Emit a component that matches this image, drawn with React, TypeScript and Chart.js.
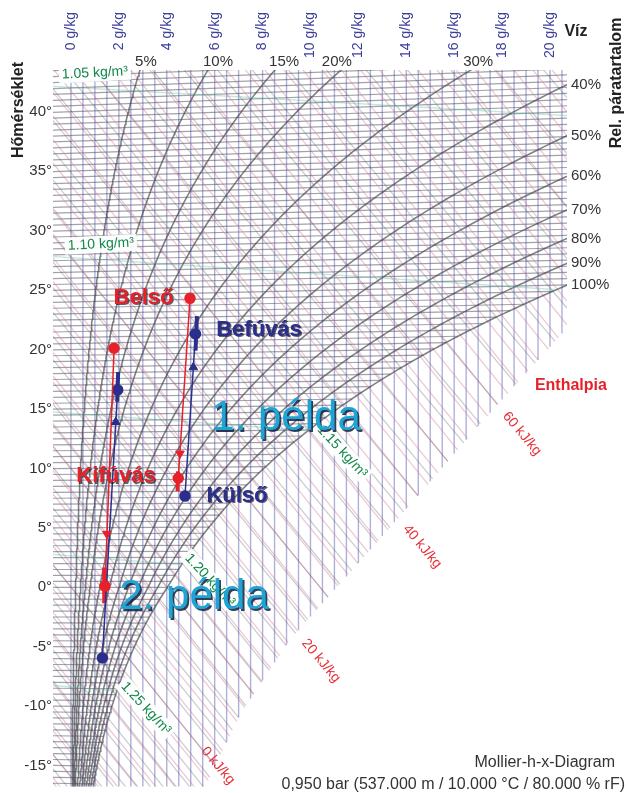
import React, { useEffect, useRef } from "react";
import { Chart, registerables } from "chart.js";

Chart.register(...registerables);

// ---------- diagram constants ----------
const PRESSURE_HPA = 950;
const X_MIN = -0.75;
const X_MAX = 20.71;
const Y_MIN = -16.75;
const Y_MAX = 43.5;

// ---------- axis / label values ----------
const humidityTicks = [0, 2, 4, 6, 8, 10, 12, 14, 16, 18, 20];
const temperatureTicks = [-15, -10, -5, 0, 5, 10, 15, 20, 25, 30, 35, 40];
const rhCurves = [5, 10, 15, 20, 30, 40, 50, 60, 70, 80, 90, 100];
const rhTopLabels = [5, 10, 15, 20, 30];
const rhTopLabelAt = [3.13, 6.14, 8.9, 11.1, 17.0];
const rhRightLabels = [40, 50, 60, 70, 80, 90, 100];
const densityValues = [1.05, 1.1, 1.15, 1.2, 1.25];
const enthalpyLabels = [0, 20, 40, 60];
const fogEdgeX = [5.6, 7.06, 9.14, 11.65, 14.57, 17.08, 20.71];
const fogEdgeY = [-16.75, -10.67, -4.4, 1.25, 7.9, 13.75, 21.8];

// grid spacing
const GRID_X_STEP = 0.5;
const GRID_T_STEP = 0.5;
const ENTHALPY_STEP = 2;
const WETBULB_STEP = 1;

// ---------- example processes ----------
const example1Red = [{ x: 4.97, y: 24.3 }, { x: 4.48, y: 9.17 }];
const example1Blue = [{ x: 4.76, y: 7.67 }, { x: 5.2, y: 21.3 }];
const example2Red = [{ x: 1.8, y: 20.1 }, { x: 1.42, y: 0.1 }];
const example2Blue = [{ x: 1.31, y: -5.94 }, { x: 1.95, y: 16.6 }];
const example1RedBar = [{ x: 4.47, y: 9.75 }, { x: 4.45, y: 8.08 }];
const example1BlueBar = [{ x: 5.26, y: 22.8 }, { x: 5.2, y: 19.9 }];
const example2RedBar = [{ x: 1.41, y: 1.67 }, { x: 1.39, y: -1.33 }];
const example2BlueBar = [{ x: 1.97, y: 18.1 }, { x: 1.93, y: 15.6 }];
const arrowsDown = [{ x: 4.55, y: 11.25 }, { x: 1.5, y: 4.5 }];
const arrowsUp = [{ x: 5.11, y: 18.5 }, { x: 1.87, y: 13.9 }];

// ---------- label layout (data coordinates) ----------
const densityLabelLayout = [
  { x: -0.38, y: 43.1, rot: -3, align: "left" },
  { x: -0.13, y: 28.7, rot: -3, align: "left" },
  { x: 11.32, y: 11.42, rot: 47, align: "center" },
  { x: 5.8, y: 0.6, rot: 47, align: "center" },
  { x: 3.13, y: -10.17, rot: 47, align: "center" },
];
const enthalpyLabelLayout = [
  { x: 6.14, y: -15.0 },
  { x: 10.44, y: -6.17 },
  { x: 14.66, y: 3.42 },
  { x: 18.83, y: 12.92 },
];
const annotations = [
  { text: "Belső", x: 3.03, y: 24.33, color: "#e8202a", size: 22 },
  { text: "Befúvás", x: 7.85, y: 21.67, color: "#2b2e8c", size: 22 },
  { text: "Kifúvás", x: 1.88, y: 9.33, color: "#e8202a", size: 22 },
  { text: "Külső", x: 6.93, y: 7.67, color: "#2b2e8c", size: 22 },
];
const exampleTitles = [
  { text: "1. példa", x: 8.98, y: 14.17 },
  { text: "2. példa", x: 5.14, y: -0.83 },
];

const FONT = '"Liberation Sans", Arial, sans-serif';

// ---------- psychrometrics ----------
function psat(t: number) {
  return t >= 0
    ? 6.112 * Math.exp((17.62 * t) / (243.12 + t))
    : 6.112 * Math.exp((22.46 * t) / (272.62 + t));
}
function xOfPv(pv: number) {
  return (622 * pv) / (PRESSURE_HPA - pv);
}
function yOf(t: number, x: number) {
  return t * (1 + 0.001849 * x);
}
function xSat(t: number) {
  return xOfPv(psat(t));
}
function fogEdge(x: number) {
  if (x < fogEdgeX[0]) return -100;
  for (let i = 1; i < fogEdgeX.length; i++) {
    if (x <= fogEdgeX[i]) {
      const f = (x - fogEdgeX[i - 1]) / (fogEdgeX[i] - fogEdgeX[i - 1]);
      return fogEdgeY[i - 1] + f * (fogEdgeY[i] - fogEdgeY[i - 1]);
    }
  }
  return fogEdgeY[fogEdgeY.length - 1];
}
function clippedLine(f: (x: number) => number) {
  const pts: { x: number; y: number }[] = [{ x: X_MIN, y: f(X_MIN) }];
  let end = X_MAX;
  for (let x = X_MIN; x <= X_MAX; x += 0.01) {
    if (f(x) < fogEdge(x)) {
      end = x;
      break;
    }
  }
  pts.push({ x: end, y: f(end) });
  return pts;
}
function rhRightExitY(phi: number) {
  const pv = (X_MAX * PRESSURE_HPA) / (622 + X_MAX);
  const ps = pv / (phi / 100);
  const l = Math.log(ps / 6.112);
  const t = (243.12 * l) / (17.62 - l);
  return yOf(t, X_MAX);
}

function lineDs(data: any[], color: string, width: number, order: number) {
  return {
    data,
    showLine: true,
    borderColor: color,
    backgroundColor: color,
    borderWidth: width,
    pointRadius: 0,
    tension: 0,
    order,
  };
}

function buildDatasets() {
  const ds: any[] = [];
  // vertical humidity lines
  for (let x = 0; x <= 20.5 + 1e-9; x += GRID_X_STEP) {
    ds.push(
      lineDs(
        [{ x, y: Y_MAX }, { x, y: Math.max(fogEdge(x), Y_MIN - 1) }],
        "rgba(145,145,200,0.72)",
        1.4,
        50
      )
    );
  }
  // isotherms
  for (let t = -17; t <= 43.5; t += GRID_T_STEP) {
    const xe = Math.min(xSat(t), X_MAX);
    ds.push(
      lineDs(
        [{ x: X_MIN, y: yOf(t, X_MIN) }, { x: xe, y: yOf(t, xe) }],
        "rgba(70,70,85,0.5)",
        1.2,
        45
      )
    );
  }
  // enthalpy lines
  for (let h = -20; h <= 100; h += ENTHALPY_STEP) {
    ds.push(lineDs(clippedLine((x) => (h - 2.501 * x) / 1.006), "rgba(205,120,150,0.42)", 1.2, 40));
  }
  // wet bulb / fog isotherms
  for (let tw = -24; tw <= 28; tw += WETBULB_STEP) {
    const xs = xSat(tw);
    const ys = yOf(tw, xs);
    const hs = 1.006 * ys + 2.501 * xs;
    const cw = tw >= 0 ? 0.00419 : 0.00205;
    ds.push(
      lineDs(
        clippedLine((x) => (hs + cw * tw * (x - xs) - 2.501 * x) / 1.006),
        "rgba(90,90,105,0.32)",
        1.2,
        35
      )
    );
  }
  // relative humidity curves
  for (const phi of rhCurves) {
    const pts: { x: number; y: number }[] = [];
    for (let t = -25; t <= 60; t += 0.25) {
      const pv = (phi / 100) * psat(t);
      const x = xOfPv(pv);
      const y = yOf(t, x);
      pts.push({ x, y });
      if (x > X_MAX + 2 || y > Y_MAX + 2) break;
    }
    ds.push(lineDs(pts, "rgba(70,70,80,0.68)", 1.6, 30));
  }
  // density lines
  for (const rho of densityValues) {
    const pts: { x: number; y: number }[] = [];
    for (let x = X_MIN; x <= X_MAX + 0.5; x += 0.05) {
      const xk = x / 1000;
      const t = (PRESSURE_HPA * 100 * (1 + xk)) / (287.05 * rho * (1 + 1.608 * xk)) - 273.15;
      pts.push({ x, y: yOf(t, x) });
      if (x >= xSat(t)) break;
    }
    ds.push(lineDs(pts, "rgba(80,185,160,0.35)", 1.4, 25));
  }
  // example bars
  ds.push(lineDs(example1RedBar, "#e8202a", 4, 6));
  ds.push(lineDs(example2RedBar, "#e8202a", 4, 6));
  ds.push(lineDs(example1BlueBar, "#2b2e8c", 4, 6));
  ds.push(lineDs(example2BlueBar, "#2b2e8c", 4, 6));
  // example lines with end dots
  for (const [pts, col] of [
    [example1Red, "#e8202a"],
    [example2Red, "#e8202a"],
    [example1Blue, "#2b2e8c"],
    [example2Blue, "#2b2e8c"],
  ] as any[]) {
    const d = lineDs(pts, col, 1.5, 3);
    d.pointRadius = 5;
    ds.push(d);
  }
  // arrow heads
  ds.push({
    data: arrowsDown,
    showLine: false,
    pointStyle: "triangle",
    rotation: 180,
    pointRadius: 5,
    backgroundColor: "#e8202a",
    borderColor: "#e8202a",
    borderWidth: 1,
    order: 1,
  });
  ds.push({
    data: arrowsUp,
    showLine: false,
    pointStyle: "triangle",
    rotation: 0,
    pointRadius: 5,
    backgroundColor: "#2b2e8c",
    borderColor: "#2b2e8c",
    borderWidth: 1,
    order: 1,
  });
  return ds;
}

function drawText(ctx: CanvasRenderingContext2D, text: string, px: number, py: number, o: any) {
  ctx.save();
  ctx.translate(px, py);
  if (o.rot) ctx.rotate((o.rot * Math.PI) / 180);
  ctx.font = o.font;
  ctx.textAlign = o.align || "center";
  ctx.textBaseline = "middle";
  if (o.bg) {
    const w = ctx.measureText(text).width;
    const h = o.bgH || 17;
    const left = o.align === "left" ? 0 : o.align === "right" ? -w : -w / 2;
    ctx.fillStyle = o.bg;
    ctx.fillRect(left - 3, -h / 2, w + 6, h);
  }
  if (o.shadow) {
    ctx.shadowColor = o.shadow;
    ctx.shadowOffsetX = o.sx ?? 1.5;
    ctx.shadowOffsetY = o.sy ?? 1.5;
    ctx.shadowBlur = 0;
  }
  ctx.fillStyle = o.color;
  ctx.fillText(text, 0, 0);
  ctx.restore();
}

const textPlugin = {
  id: "mollierText",
  afterDatasetsDraw(chart: any) {
    const ctx = chart.ctx as CanvasRenderingContext2D;
    const xs = chart.scales.x;
    const ys = chart.scales.y;
    const W = chart.width;
    const X = (v: number) => xs.getPixelForValue(v);
    const Y = (v: number) => ys.getPixelForValue(v);

    // density labels
    densityValues.forEach((rho, i) => {
      const l = densityLabelLayout[i];
      drawText(ctx, `${rho.toFixed(2)} kg/m³`, X(l.x), Y(l.y), {
        font: `14px ${FONT}`,
        color: "#12884a",
        align: l.align,
        rot: l.rot,
        bg: "rgba(255,255,255,0.95)",
      });
    });
    // enthalpy labels
    enthalpyLabels.forEach((h, i) => {
      const l = enthalpyLabelLayout[i];
      drawText(ctx, `${h} kJ/kg`, X(l.x), Y(l.y), {
        font: `14px ${FONT}`,
        color: "#e8303a",
        rot: 50,
      });
    });
    // temperature ticks
    temperatureTicks.forEach((t) => {
      drawText(ctx, `${t}°`, 52, Y(t), { font: `15px ${FONT}`, color: "#333", align: "right" });
    });
    // humidity ticks (top, rotated)
    humidityTicks.forEach((g) => {
      drawText(ctx, `${g} g/kg`, X(g), 12, {
        font: `14px ${FONT}`,
        color: "#3d3d9e",
        align: "right",
        rot: -90,
      });
    });
    // rel. humidity labels
    rhTopLabels.forEach((v, i) => {
      drawText(ctx, `${v}%`, X(rhTopLabelAt[i]), 62, { font: `15px ${FONT}`, color: "#333" });
    });
    rhRightLabels.forEach((v) => {
      drawText(ctx, `${v}%`, 571, Y(rhRightExitY(v)), { font: `15px ${FONT}`, color: "#333", align: "left" });
    });
    // axis titles
    drawText(ctx, "Víz", 576, 32, { font: `bold 16px ${FONT}`, color: "#222" });
    drawText(ctx, "Hőmérséklet", 19, 110, { font: `bold 16px ${FONT}`, color: "#222", rot: -90 });
    drawText(ctx, "Rel. páratartalom", 617, 83, { font: `bold 16px ${FONT}`, color: "#222", rot: -90 });
    drawText(ctx, "Enthalpia", X(19.37), Y(17), { font: `bold 16px ${FONT}`, color: "#e8202a", align: "left" });
    drawText(ctx, "Mollier-h-x-Diagram", W - 12, 763, { font: `16px ${FONT}`, color: "#333", align: "right" });
    drawText(ctx, "0,950 bar (537.000 m / 10.000 °C / 80.000 % rF)", W - 2, 785, {
      font: `16px ${FONT}`,
      color: "#333",
      align: "right",
    });
    // annotations
    annotations.forEach((a) => {
      drawText(ctx, a.text, X(a.x), Y(a.y), {
        font: `bold ${a.size}px ${FONT}`,
        color: a.color,
        shadow: "rgba(30,30,40,0.7)",
        sx: 1.2,
        sy: 1.2,
      });
    });
    exampleTitles.forEach((a) => {
      drawText(ctx, a.text, X(a.x), Y(a.y), {
        font: `42px ${FONT}`,
        color: "#1ea5d6",
        shadow: "rgba(20,30,60,0.85)",
        sx: 1.8,
        sy: 1.8,
      });
    });
  },
};

export default function App() {
  const ref = useRef<HTMLCanvasElement | null>(null);
  useEffect(() => {
    if (!ref.current) return;
    const chart = new Chart(ref.current, {
      type: "scatter",
      data: { datasets: buildDatasets() },
      options: {
        animation: false,
        responsive: true,
        maintainAspectRatio: false,
        events: [],
        layout: { padding: { left: 53, right: 60, top: 70, bottom: 0 } },
        plugins: { legend: { display: false }, tooltip: { enabled: false } },
        scales: {
          x: { type: "linear", min: X_MIN, max: X_MAX, display: false },
          y: { type: "linear", min: Y_MIN, max: Y_MAX, display: false },
        },
      } as any,
      plugins: [textPlugin],
    });
    return () => chart.destroy();
  }, []);
  return (
    <div style={{ position: "fixed", left: 0, top: 0, width: 627, height: 793, background: "#fff" }}>
      <canvas ref={ref} style={{ display: "block" }} />
    </div>
  );
}
